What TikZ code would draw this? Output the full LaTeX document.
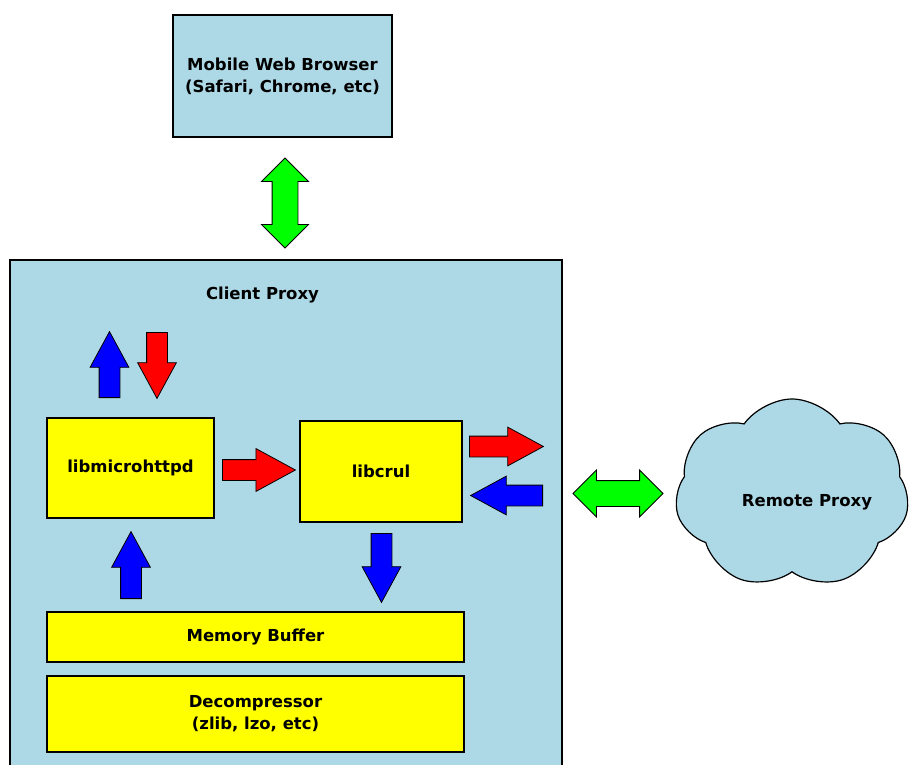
\documentclass[tikz,border=0pt]{standalone}
\usepackage{fontspec}
\setmainfont{DejaVu Sans}
\usetikzlibrary{shapes.arrows,shapes.symbols}
\definecolor{boxblue}{RGB}{173,216,230}
\definecolor{boxyellow}{RGB}{255,255,0}
\definecolor{linkgreen}{RGB}{0,255,0}
\begin{document}
\begin{tikzpicture}[
    x=1pt, y=-1pt,
    every node/.style={font=\fontsize{16.5}{22}\selectfont\bfseries},
    frame/.style={rectangle, draw, line width=1.4pt, fill=boxblue, align=center},
    block/.style={rectangle, draw, line width=1.4pt, fill=boxyellow, align=center},
    flow/.style={single arrow, draw, anchor=tail, line width=0.8pt, inner xsep=0pt, inner ysep=10pt, single arrow head extend=9pt, single arrow tip angle=57, minimum height=70pt},
    link/.style={double arrow, draw, line width=0.8pt, fill=linkgreen, inner xsep=0pt, inner ysep=12.5pt, double arrow head extend=10.5pt, double arrow tip angle=90, minimum height=90pt}
]
    \clip (0,0) rectangle (910,765);

    \node [frame, minimum width=219pt, minimum height=122pt] (browser) at (282.5,76) {Mobile Web Browser\\(Safari, Chrome, etc)};
    \node [link, rotate=90] (browserlink) at (285,203) {};

    \node [frame, minimum width=552pt, minimum height=540pt] (client) at (286,530) {};
    \node (clientlabel) at (262.5,295) {Client Proxy};

    \node [block, minimum width=167pt, minimum height=100pt] (httpd) at (130.5,468) {libmicrohttpd};
    \node [block, minimum width=162pt, minimum height=101pt] (curl) at (381,471.5) {libcrul};
    \node [block, minimum width=417pt, minimum height=50pt] (buffer) at (255.5,637) {Memory Buffer};
    \node [block, minimum width=417pt, minimum height=76pt] (decomp) at (255.5,714) {Decompressor\\(zlib, lzo, etc)};

    % block arrows, placed by their tails
    \node [flow, fill=blue, rotate=90, minimum height=66pt] (httpdout) at (109.5,398) {};
    \node [flow, fill=red, rotate=270, minimum height=66pt] (httpdin) at (157,332) {};
    \node [flow, fill=red, minimum height=73pt, single arrow head extend=11pt] (tocurl) at (222,470) {};
    \node [flow, fill=red, minimum height=74pt] (curlout) at (469,446.5) {};
    \node [flow, fill=blue, rotate=180, minimum height=72pt] (curlin) at (543,495.5) {};
    \node [flow, fill=blue, rotate=270, minimum height=69pt] (tobuffer) at (381.5,533) {};
    \node [flow, fill=blue, rotate=90, minimum height=67pt] (fromhttpd) at (131,599) {};

    \node [link] (remotelink) at (618,493.5) {};
    \node [cloud, draw, line width=1.2pt, fill=boxblue, cloud puffs=7, cloud puff arc=110, aspect=1.2, minimum width=234pt, minimum height=190pt] (remote) at (792,494) {};
    \node (remotelabel) at (807,502) {Remote Proxy};
\end{tikzpicture}
\end{document}
